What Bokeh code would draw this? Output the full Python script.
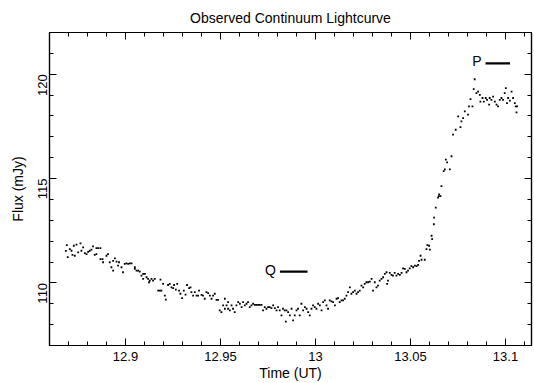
from bokeh.plotting import figure
from bokeh.models import (LinearAxis, SingleIntervalTicker, CustomJSTickFormatter,
                          Range1d, Label, ColumnDataSource)
from bokeh.embed import file_html
from bokeh.resources import INLINE
import math

# ---- data ----
time_ut = [
 12.8686, 12.8691, 12.8696, 12.8707,
 12.8716, 12.8728, 12.8742, 12.8763, 12.8721, 12.8733, 12.8751, 12.8768, 12.8777, 12.8786,
 12.8795, 12.8803, 12.8812, 12.8821, 12.8829, 12.8838, 12.8847, 12.8856, 12.8868, 12.8847,
 12.8868, 12.8879, 12.8882, 12.8900, 12.8908, 12.8917, 12.8926, 12.8935, 12.8944, 12.8953,
 12.8961, 12.8966, 12.8935, 12.8979, 12.8987, 12.8996, 12.9005, 12.9014, 12.9023, 12.9032,
 12.9049, 12.9058, 12.9066, 12.9049, 12.9075, 12.9084, 12.9093, 12.9102, 12.9111, 12.9119,
 12.9124, 12.9093,
 12.9128, 12.9137, 12.9145, 12.9154, 12.9172, 12.9181, 12.9189, 12.9184, 12.9198, 12.9207,
 12.9212, 12.9224, 12.9233, 12.9242, 12.9251, 12.9256, 12.9265, 12.9272, 12.9282, 12.9289,
 12.9298, 12.9307, 12.9316, 12.9324, 12.9335, 12.9342, 12.9347, 12.9356, 12.9365, 12.9374,
 12.9382, 12.9387, 12.9400, 12.9408, 12.9417, 12.9426, 12.9435, 12.9444, 12.9453, 12.9461,
 12.9470, 12.9479, 12.9487, 12.9496, 12.9505, 12.9514, 12.9523, 12.9532, 12.9540,
 12.9523, 12.9540, 12.9549, 12.9558, 12.9566, 12.9575, 12.9584, 12.9593, 12.9602, 12.9611,
 12.9619, 12.9628, 12.9637, 12.9645, 12.9654, 12.9663, 12.9672, 12.9681, 12.9689, 12.9698,
 12.9707, 12.9716, 12.9724, 12.9733, 12.9742, 12.9751, 12.9759, 12.9768, 12.9777, 12.9786,
 12.9795, 12.9803, 12.9812, 12.9821, 12.9829, 12.9838, 12.9847, 12.9856, 12.9865, 12.9874,
 12.9882, 12.9891, 12.9900, 12.9908, 12.9917, 12.9926, 12.9935, 12.9944, 12.9953, 12.9961,
 12.9844,
 12.9970, 12.9979, 12.9987, 12.9996, 13.0005, 13.0014, 13.0023, 13.0032, 13.0040, 13.0049,
 13.0058, 13.0066, 13.0075, 13.0084, 13.0093, 13.0102, 13.0111, 13.0119, 13.0128, 13.0137,
 13.0145, 13.0154, 13.0163, 13.0172, 13.0181, 13.0189, 13.0198, 13.0207, 13.0216, 13.0224,
 13.0233, 13.0242, 13.0251, 13.0259, 13.0268, 13.0277, 13.0286, 13.0295, 13.0303, 13.0312,
 13.0321, 13.0329, 13.0338, 13.0347, 13.0356, 13.0365, 13.0374, 13.0382, 13.0377,
 13.0391, 13.0400, 13.0408, 13.0417, 13.0426, 13.0435, 13.0444, 13.0453, 13.0461, 13.0470,
 13.0479, 13.0487, 13.0496, 13.0505, 13.0514, 13.0523, 13.0532, 13.0540, 13.0545, 13.0553,
 13.0558, 13.0575, 13.0584, 13.0589, 13.0598, 13.0602, 13.0611, 13.0614, 13.0623, 13.0624,
 13.0633, 13.0645, 13.0649,
 13.0651, 13.0658, 13.0663, 13.0675, 13.0681, 13.0686, 13.0693, 13.0707, 13.0716, 13.0724,
 13.0738, 13.0751, 13.0763, 13.0768, 13.0777, 13.0786, 13.0803, 13.0808, 13.0816, 13.0826,
 13.0833, 13.0838, 13.0847, 13.0856, 13.0865, 13.0868, 13.0879, 13.0886, 13.0896, 13.0903,
 13.0914, 13.0917, 13.0926, 13.0935, 13.0944, 13.0953, 13.0961, 13.0970, 13.0979, 13.0987,
 13.0996, 13.1002, 13.1008, 13.1014, 13.1023, 13.1032, 13.1040, 13.1049, 13.1054, 13.1061,
 13.1058,
]
flux_mjy = [
 111.53, 111.81, 111.24, 111.62,
 111.54, 111.78, 111.83, 111.89, 111.34, 111.30, 111.46, 111.54, 111.70, 111.43,
 111.38, 111.49, 111.54, 111.59, 111.75, 111.34, 111.67, 111.67, 111.67, 111.38,
 111.14, 111.14, 110.99, 111.30, 111.38, 110.99, 110.75, 111.06, 111.18, 111.02,
 110.83, 110.99, 110.59, 110.75, 110.51, 110.91, 110.94, 110.91, 110.94, 110.94,
 110.75, 110.59, 110.59, 110.67, 110.54, 110.35, 110.43, 110.43, 110.27, 110.19,
 110.03, 110.19,
 110.11, 110.19, 110.11, 110.19, 109.63, 109.63, 109.63, 110.16, 109.95, 109.39,
 109.20, 109.90, 109.95, 109.79, 109.75, 109.90, 109.68, 109.95, 109.63, 109.48,
 109.27, 109.63, 109.44, 109.90, 109.75, 109.79, 109.56, 109.39, 109.56, 109.39,
 109.39, 109.63, 109.43, 109.39, 109.24, 109.56, 109.51, 109.39, 109.24, 109.39,
 109.48, 109.19, 109.19, 108.68, 108.60, 108.92, 109.24, 108.92, 108.76,
 108.76, 109.08, 108.68, 108.92, 108.76, 108.60, 108.92, 109.08, 109.00, 108.84,
 109.08, 108.92, 109.00, 109.08, 108.84, 108.92, 109.00, 108.95, 108.95, 108.95,
 108.95, 108.95, 108.68, 108.84, 108.76, 108.84, 108.84, 108.79, 108.92, 108.79,
 108.68, 108.84, 108.68, 108.44, 108.76, 108.68, 108.68, 108.60, 108.44, 108.76,
 108.20, 108.44, 108.68, 108.76, 108.44, 109.00, 108.68, 108.84, 108.76, 108.60,
 108.14,
 108.44, 108.76, 108.92, 108.84, 108.76, 109.00, 108.92, 108.68, 109.08, 109.16,
 108.92, 108.76, 109.16, 109.11, 109.08, 108.92, 109.24, 109.27, 109.08, 109.16,
 109.16, 109.24, 109.39, 109.56, 109.79, 109.48, 109.56, 109.63, 109.48, 109.56,
 109.63, 109.87, 109.79, 109.95, 110.03, 110.03, 110.06, 110.19, 109.63, 110.03,
 109.79, 109.87, 110.11, 110.19, 110.27, 110.43, 110.51, 110.11, 109.95,
 110.48, 110.38, 110.35, 110.48, 110.35, 110.43, 110.38, 110.48, 110.70, 110.67,
 110.51, 110.59, 110.70, 110.80, 110.75, 110.83, 110.80, 110.86, 111.06, 111.30,
 111.11, 111.11, 111.62, 111.81, 111.78, 111.59, 112.26, 112.10, 112.81, 113.13,
 113.61, 114.09, 114.16,
 114.24, 114.16, 114.64, 115.36, 115.44, 115.91, 115.78, 115.44, 116.07, 117.11,
 117.34, 117.98, 117.47, 117.74, 117.90, 118.22, 118.06, 118.46, 118.81, 118.46,
 119.29, 119.76, 119.09, 119.17, 119.01, 118.69, 118.86, 118.69, 118.86, 118.77,
 118.54, 118.86, 118.77, 118.93, 118.69, 118.54, 118.46, 118.77, 118.86, 118.77,
 119.09, 119.33, 118.62, 118.86, 118.74, 119.17, 118.86, 118.62, 118.46, 118.46,
 118.17,
]

marker_names = ["Q", "P"]
marker_t_start = [12.9813, 13.0895]
marker_t_end = [12.9958, 13.1024]
marker_flux = [110.54, 120.52]

x_ticks_interval = 0.05
y_ticks_interval = 5

FONT = "Liberation Sans"

p = figure(width=534, height=383, output_backend="svg", toolbar_location=None,
           x_range=Range1d(12.86, 13.1137), y_range=Range1d(107.0, 122.0),
           min_border_left=49, min_border_right=3, min_border_top=32, min_border_bottom=37,
           title="Observed Continuum Lightcurve", x_axis_location=None, y_axis_location=None)
p.title.text_font = FONT
p.title.text_font_size = "14px"
p.title.text_font_style = "normal"
p.title.align = "center"
p.title.vertical_align = "top"
p.title.offset = -6
p.title.text_color = "black"
p.grid.visible = False
p.background_fill_color = "white"
p.border_fill_color = "white"
p.outline_line_color = "black"
p.outline_line_width = 1.2

fmt = CustomJSTickFormatter(code="return String(parseFloat(tick.toFixed(3)));")
blank = CustomJSTickFormatter(code="return '';")

def style_axis(ax, show_labels):
    ax.axis_line_color = "black"
    ax.axis_line_width = 1.2
    ax.major_tick_in = 7
    ax.major_tick_out = 0
    ax.minor_tick_in = 4
    ax.minor_tick_out = 0
    ax.major_tick_line_color = "black"
    ax.minor_tick_line_color = "black"
    ax.major_label_text_font = FONT
    ax.major_label_text_font_size = "13px"
    ax.major_label_text_color = "black"
    ax.axis_label_text_font = FONT
    ax.axis_label_text_font_size = "14px"
    ax.axis_label_text_font_style = "normal"
    ax.axis_label_text_color = "black"
    if not show_labels:
        ax.formatter = blank
        ax.major_label_standoff = 0

xb = LinearAxis(ticker=SingleIntervalTicker(interval=x_ticks_interval, num_minor_ticks=5),
                formatter=fmt, axis_label="Time (UT)")
style_axis(xb, True)
xb.major_label_standoff = 6
xb.axis_label_standoff = 1
p.add_layout(xb, "below")

xt = LinearAxis(ticker=SingleIntervalTicker(interval=x_ticks_interval, num_minor_ticks=5))
style_axis(xt, False)
p.add_layout(xt, "above")

yl = LinearAxis(ticker=SingleIntervalTicker(interval=y_ticks_interval, num_minor_ticks=5),
                formatter=fmt, axis_label="Flux (mJy)")
style_axis(yl, True)
yl.major_label_orientation = math.pi / 2
yl.major_label_standoff = 7
yl.axis_label_standoff = 5
p.add_layout(yl, "left")

yr = LinearAxis(ticker=SingleIntervalTicker(interval=y_ticks_interval, num_minor_ticks=5))
style_axis(yr, False)
p.add_layout(yr, "right")

src = ColumnDataSource(dict(t=time_ut, f=flux_mjy))
p.scatter("t", "f", source=src, size=1.8, marker="square", color="black", line_width=0)

msrc = ColumnDataSource(dict(name=marker_names, t0=marker_t_start, t1=marker_t_end, f=marker_flux))
p.segment(x0="t0", y0="f", x1="t1", y1="f", source=msrc, line_color="black", line_width=2.2)
for n, t0, fy in zip(marker_names, marker_t_start, marker_flux):
    p.add_layout(Label(x=t0, y=fy, text=n, text_align="right", text_baseline="middle",
                       x_offset=-4, y_offset=2, text_font=FONT, text_font_size="14px",
                       text_color="black"))

open("out.html", "w").write(file_html(p, INLINE))
